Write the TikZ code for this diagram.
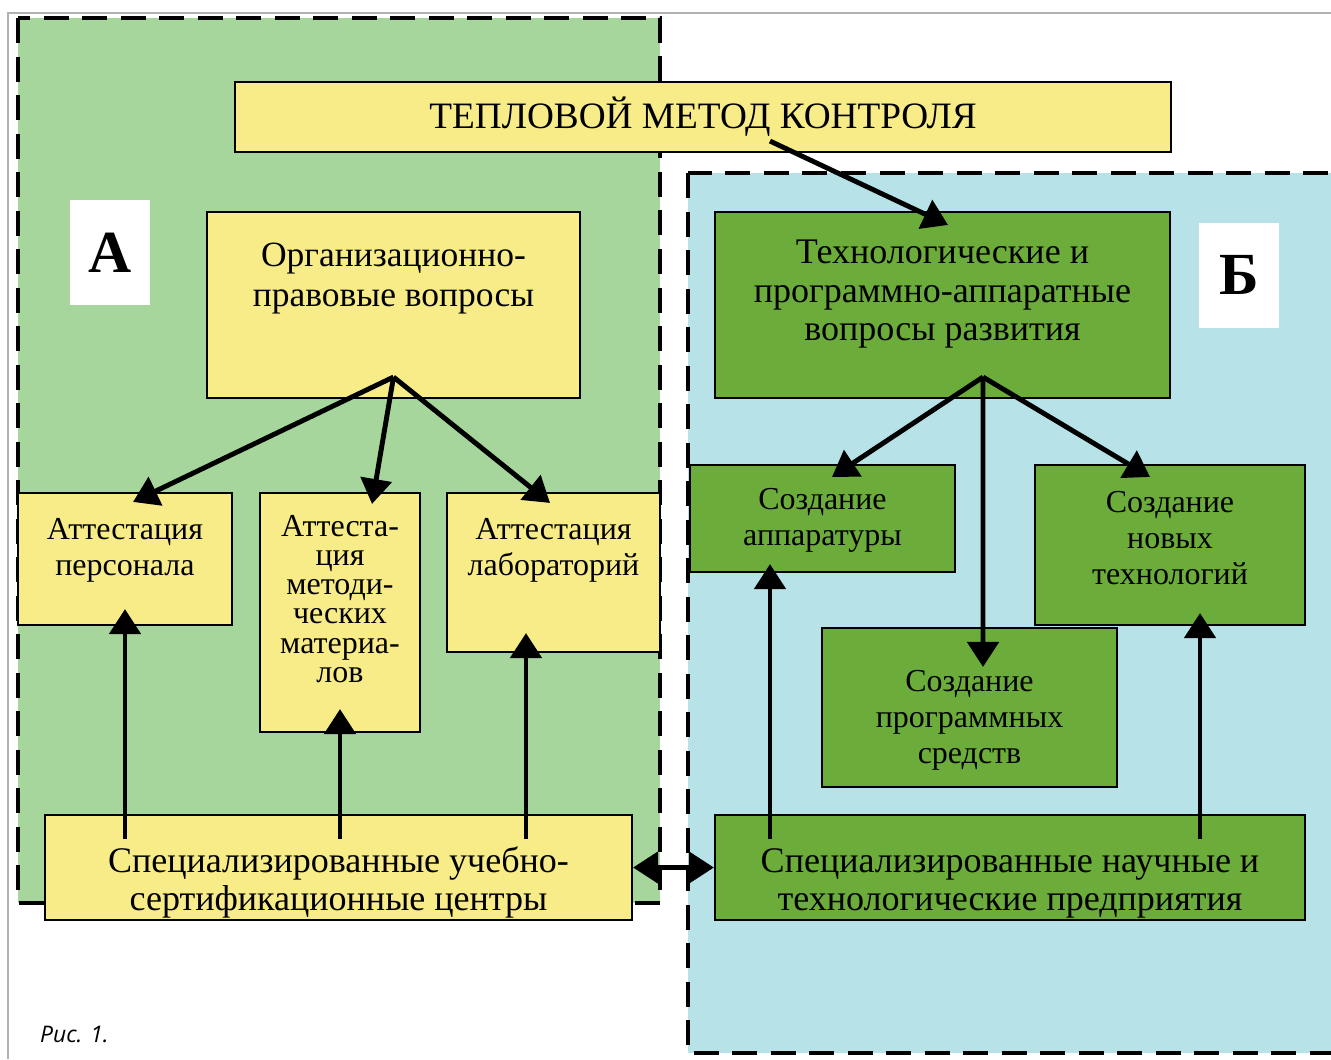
\documentclass[tikz,border=0pt]{standalone}
\usepackage{fontspec}
\setmainfont{Liberation Serif}
\newfontfamily\capfont{Open Sans}
\usetikzlibrary{arrows.meta,calc}

\definecolor{zoneA}{RGB}{166,214,156}
\definecolor{zoneB}{RGB}{182,226,232}
\definecolor{boxY}{RGB}{248,236,136}
\definecolor{boxG}{RGB}{108,172,58}

\begin{document}
\begin{tikzpicture}[
    zone/.style={line width=2.4pt,dash pattern=on 0.5cm off 0.27cm},
    ybox/.style={draw,line width=1.2pt,fill=boxY,inner sep=0pt},
    gbox/.style={ybox,fill=boxG},
    txt/.style={align=center,inner sep=0pt,font=\fontsize{18.2}{20.5}\selectfont},
    txtbig/.style={txt,font=\fontsize{20.5}{21.8}\selectfont},
    tag/.style={fill=white,inner sep=0pt,minimum width=1.6cm,minimum height=2.1cm,font=\fontsize{34}{34}\selectfont\bfseries},
    arr/.style={line width=2.8pt,-{Triangle[width=0.62cm,length=0.5cm]}}
  ]
  \useasboundingbox (0,0) rectangle (26.62,-21.18);

  % Scan frame
  \draw[gray!60,line width=0.6pt] (0.16,-21.18) -- (0.16,-0.26) -- (26.62,-0.26);

  % Zones A and B
  \draw[zone,fill=zoneA] (0.36,-0.36) rectangle (13.20,-18.06);
  \draw[zone,fill=zoneB] (13.76,-3.46) rectangle (27.2,-21.06);

  % Top
  \node[ybox,minimum width=18.72cm,minimum height=1.40cm,
    font=\fontsize{21.2}{23}\selectfont] (title) at (14.06,-2.34) {ТЕПЛОВОЙ МЕТОД КОНТРОЛЯ};

  % Zone A boxes
  \node[tag] (tagA) at (2.20,-5.05) {А};
  \node[ybox,minimum width=7.46cm,minimum height=3.72cm,
    label={[txtbig,below=0.64cm,font=\fontsize{20.2}{22.6}\selectfont]north:Организационно-\\правовые вопросы}] (org) at (7.87,-6.10) {};
  \node[ybox,minimum width=4.28cm,minimum height=2.64cm,
    label={[txt,below=0.52cm]north:Аттестация\\персонала}] (pers) at (2.50,-11.18) {};
  \node[ybox,minimum width=3.20cm,minimum height=4.78cm,
    label={[txt,below=0.46cm,font=\fontsize{18.2}{16.6}\selectfont]north:Аттеста-\\ция\\методи-\\ческих\\материа-\\лов}] (meth) at (6.80,-12.25) {};
  \node[ybox,minimum width=4.26cm,minimum height=3.18cm,
    label={[txt,below=0.52cm]north:Аттестация\\лабораторий}] (labs) at (11.07,-11.45) {};
  \node[ybox,minimum width=11.74cm,minimum height=2.10cm,
    label={[txtbig,below=0.64cm]north:Специализированные учебно-\\сертификационные центры}] (centers) at (6.77,-17.35) {};

  % Zone B boxes
  \node[tag] (tagB) at (24.78,-5.50) {Б};
  \node[gbox,minimum width=9.10cm,minimum height=3.72cm,
    label={[txtbig,below=0.58cm]north:Технологические и\\программно-аппаратные\\вопросы развития}] (tech) at (18.85,-6.10) {};
  \node[gbox,minimum width=5.30cm,minimum height=2.14cm,
    label={[txt,below=0.48cm]north:Создание\\аппаратуры}] (hw) at (16.45,-10.37) {};
  \node[gbox,minimum width=5.40cm,minimum height=3.20cm,
    label={[txt,below=0.54cm]north:Создание\\новых\\технологий}] (newtech) at (23.40,-10.90) {};
  \node[gbox,minimum width=5.90cm,minimum height=3.18cm,
    label={[txt,below=0.86cm]north:Создание\\программных\\средств}] (sw) at (19.39,-14.15) {};
  \node[gbox,minimum width=11.80cm,minimum height=2.10cm,
    label={[txtbig,below=0.68cm]north:Специализированные научные и\\технологические предприятия}] (firms) at (20.20,-17.35) {};

  % Arrows down
  \draw[arr] ([xshift=1.34cm,yshift=0.24cm]title.south) -- ([xshift=0.11cm,yshift=-0.28cm]tech.north);
  \coordinate (orgfork) at ([yshift=0.44cm]org.south);
  \draw[arr] (orgfork) -- ([xshift=0.16cm,yshift=-0.2cm]pers.north);
  \draw[arr] (orgfork) -- ([xshift=0.64cm,yshift=-0.24cm]meth.north);
  \draw[arr] (orgfork) -- ([xshift=-0.07cm,yshift=-0.22cm]labs.north);
  \coordinate (techfork) at ([xshift=0.81cm,yshift=0.44cm]tech.south);
  \draw[arr] (techfork) -- ([xshift=0.19cm,yshift=-0.26cm]hw.north);
  \draw[arr] (techfork) -- ([xshift=0.27cm,yshift=-0.8cm]sw.north);
  \draw[arr] (techfork) -- ([xshift=-0.4cm,yshift=-0.26cm]newtech.north);

  % Arrows up
  \draw[arr] ($(pers.south |- centers.north)+(0,-0.5)$) -- ($(pers.south)+(0,0.34)$);
  \draw[arr] ($(meth.south |- centers.north)+(0,-0.5)$) -- ($(meth.south)+(0,0.48)$);
  \draw[arr] ($(labs.south |- centers.north)+(-0.55,-0.5)$) -- ($(labs.south)+(-0.55,0.4)$);
  \draw[arr] ($(hw.south |- firms.north)+(-1.05,-0.5)$) -- ($(hw.south)+(-1.05,0.18)$);
  \draw[arr] ($(newtech.south |- firms.north)+(0.6,-0.5)$) -- ($(newtech.south)+(0.6,0.26)$);

  % Link between A and B
  \draw[arr,{Triangle[width=0.62cm,length=0.5cm]}-{Triangle[width=0.62cm,length=0.5cm]}] (centers.east) -- (firms.west);

  % Caption
  \node[font=\capfont\itshape\fontsize{13}{13}\selectfont,anchor=west] (cap) at (0.68,-20.68) {Рис. 1.};
\end{tikzpicture}
\end{document}
